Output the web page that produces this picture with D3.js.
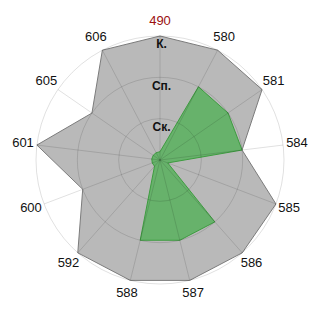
<!DOCTYPE html>
<html>
<head>
<meta charset="utf-8">
<script src="https://cdn.jsdelivr.net/npm/d3@7"></script>
<style>
  body { margin: 0; background: #fff; }
  svg { display: block; }
</style>
</head>
<body>
<div id="chart"></div>
<script>
const categories = ["490", "580", "581", "584", "585", "586", "587", "588", "592", "600", "601", "605", "606"];
const grayValues = [3, 3, 3, 2, 3, 3, 3, 3, 3, 2, 3, 2, 3];
const greenValues = [0.2, 2, 2, 2, 0.2, 2, 2, 2, 0.2, 0.2, 0.2, 0.2, 0.2];
const levelValues = [1, 2, 3];
const levelLabels = ["Ск.", "Сп.", "К."];

const width = 320, height = 320;
const cx = 160, cy = 160;
const outer = 124;

const svg = d3.select("#chart")
  .append("svg")
  .attr("width", width)
  .attr("height", height)
  .append("g")
  .attr("transform", `translate(${cx},${cy})`);

const angle = d3.scaleBand()
  .domain(categories)
  .range([0, 2 * Math.PI])
  .align(0);

const rScale = d3.scaleLinear()
  .domain([0, 3])
  .range([0, outer]);

const a = (c) => angle(c);

// polygons
const radial = d3.lineRadial()
  .angle((d) => a(d.cat))
  .radius((d) => rScale(d.v))
  .curve(d3.curveLinearClosed);

const grayData = categories.map((c, i) => ({ cat: c, v: grayValues[i] }));
const greenData = categories.map((c, i) => ({ cat: c, v: greenValues[i] }));

svg.append("path")
  .datum(grayData)
  .attr("d", radial)
  .style("fill", "#b9b9b9")
  .style("stroke", "#7c7c7c")
  .style("stroke-width", 1);

svg.append("path")
  .datum(greenData)
  .attr("d", radial)
  .style("fill", "#67b26b")
  .style("stroke", "#3e9c40")
  .style("stroke-width", 1);

// grid on top, semi transparent
svg.selectAll(".ring")
  .data(levelValues)
  .enter()
  .append("circle")
  .attr("class", "ring")
  .attr("r", (d) => rScale(d))
  .style("fill", "none")
  .style("stroke", "rgba(0,0,0,0.12)")
  .style("stroke-width", 1);

svg.selectAll(".spoke")
  .data(categories)
  .enter()
  .append("line")
  .attr("class", "spoke")
  .attr("x1", 0)
  .attr("y1", 0)
  .attr("x2", (d) => rScale(3) * Math.sin(a(d)))
  .attr("y2", (d) => -rScale(3) * Math.cos(a(d)))
  .style("stroke", "rgba(0,0,0,0.12)")
  .style("stroke-width", 1);

// level labels
svg.selectAll(".level-label")
  .data(levelValues)
  .enter()
  .append("text")
  .attr("class", "level-label")
  .attr("x", 1.5)
  .attr("y", (d) => -rScale(d) + 9)
  .attr("text-anchor", "middle")
  .attr("dominant-baseline", "middle")
  .style("font-family", "Liberation Sans, Arial, sans-serif")
  .style("font-size", "12px")
  .style("font-weight", "bold")
  .style("fill", "#111")
  .text((d, i) => levelLabels[i]);

// category labels
const labelR = outer + 14;
svg.selectAll(".cat-label")
  .data(categories)
  .enter()
  .append("text")
  .attr("class", "cat-label")
  .attr("x", (d) => labelR * Math.sin(a(d)))
  .attr("y", (d) => -labelR * Math.cos(a(d)))
  .attr("text-anchor", "middle")
  .attr("dominant-baseline", "middle")
  .style("font-family", "Liberation Sans, Arial, sans-serif")
  .style("font-size", "13px")
  .style("fill", (d, i) => (i === 0 ? "#9b1010" : "#111"))
  .text((d) => d);
</script>
</body>
</html>
